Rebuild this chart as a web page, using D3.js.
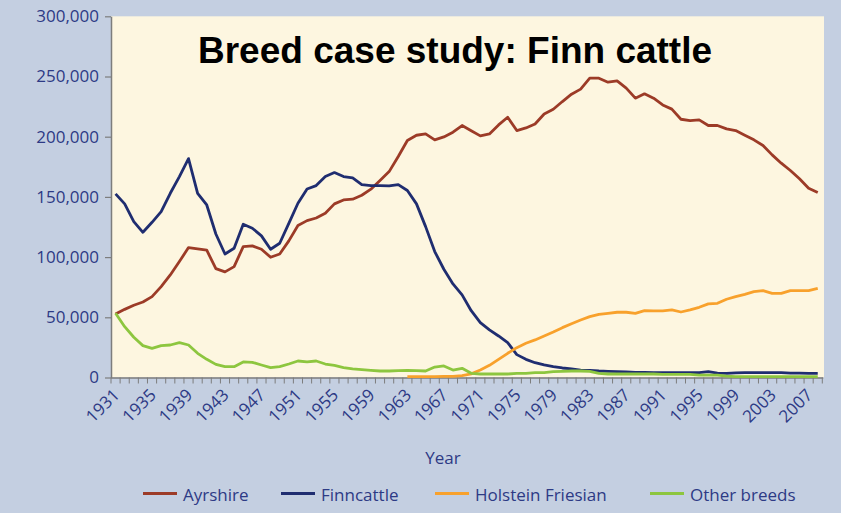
<!DOCTYPE html>
<html>
<head>
<meta charset="utf-8">
<script src="https://cdn.jsdelivr.net/npm/d3@7/dist/d3.min.js"></script>
<style>
  html, body { margin: 0; padding: 0; background: #c4cfe1; }
  svg { display: block; }
</style>
</head>
<body>
<svg id="chart" width="841" height="513"></svg>
<script>
const years = d3.range(1931, 2009);
const tickYears = [1931,1935,1939,1943,1947,1951,1955,1959,1963,1967,1971,1975,1979,1983,1987,1991,1995,1999,2003,2007];
const yTicks = [0, 50000, 100000, 150000, 200000, 250000, 300000];

const ayrshire = [52800,56600,60000,62700,67200,75500,85200,96300,107900,106800,
  105700,90400,87700,92100,108700,109300,106500,99900,102600,113500,
  126200,130300,132500,136400,144200,147500,148100,151400,156400,163600,
  171000,183500,196800,201200,202300,197300,199800,203700,209300,205000,
  200700,202300,209800,216200,205100,207300,210600,218900,222800,229200,
  235300,239500,248600,248600,245300,246400,240300,232000,235600,232000,
  226400,222900,214500,213400,214000,209300,209300,206500,205100,201300,
  197400,192700,184900,178000,171900,165000,157200,153600];

const finncattle = [152500,144200,129500,120600,128900,137800,153000,166900,181800,153000,
  143300,119200,102600,107300,127300,124000,117600,106500,111500,128000,
  144700,156600,159400,166900,170200,166900,165800,160200,159400,159400,
  159100,160200,155300,144200,125300,104600,89900,77700,68600,55500,
  45600,39500,34500,28900,19000,15100,12300,10400,9000,7900,
  7100,6200,6000,5400,5100,4800,4600,4300,4300,4000,
  4000,4000,4000,4000,4000,4800,3600,3500,3800,4000,
  4000,4000,4000,4000,3700,3700,3500,3500];

const holstein = [null,null,null,null,null,null,null,null,null,null,
  null,null,null,null,null,null,null,null,null,null,
  null,null,null,null,null,null,null,null,null,null,
  null,null,800,800,800,800,900,1000,1500,3000,
  6200,10100,15100,20100,24800,28400,31200,34500,37800,41400,
  44700,47800,50600,52500,53300,54200,54200,53300,55500,55300,
  55300,56100,54400,56100,58300,61100,61600,65000,67200,69100,
  71300,72200,69900,69900,72200,72200,72200,74100];

const otherBreeds = [53300,42200,33400,26500,24200,26500,27000,29000,27000,20100,
  15100,10900,9000,9000,12900,12600,10400,8200,9000,11200,
  13700,12900,13700,11200,10100,8200,7100,6500,6000,5400,
  5400,5700,6000,5700,5400,8700,9600,6200,7600,3500,
  2900,2900,2900,2900,3500,3500,4000,4000,4800,5100,
  5400,5400,5100,3500,2900,2900,2900,2900,2900,2900,
  2600,2600,2600,2600,2000,2000,2000,1200,700,700,
  700,700,700,700,700,700,700,700];

const seriesNames = ["Ayrshire", "Finncattle", "Holstein Friesian", "Other breeds"];
const seriesData = [ayrshire, finncattle, holstein, otherBreeds];
const seriesColors = ["#9c3b27", "#1f2d70", "#f8a12c", "#8dc63f"];

const svg = d3.select("#chart");
const W = 841, H = 513;
const plot = { left: 111, right: 822.3, top: 16.3, bottom: 377.5 };

svg.append("rect").attr("x", 0).attr("y", 0).attr("width", W).attr("height", H).attr("fill", "#c4cfe1");
svg.append("rect").attr("x", plot.left).attr("y", plot.top)
  .attr("width", 824 - plot.left).attr("height", plot.bottom - plot.top)
  .attr("fill", "#fdf6e0");

const x = d3.scaleBand().domain(years).range([plot.left, plot.right]).padding(0);
const cx = d => x(d) + x.bandwidth() / 2;
const y = d3.scaleLinear().domain([0, 300000]).range([plot.bottom, plot.top]);

const axisColor = "#7d7d7d";
const textColor = "#2d3a85";
const labelFont = "'Open Sans', 'Noto Sans', sans-serif";

// Y axis
const yAxis = d3.axisLeft(y).tickValues(yTicks).tickFormat(d3.format(",")).tickSize(6).tickSizeOuter(0).tickPadding(6);
const gy = svg.append("g").attr("transform", `translate(${plot.left},0)`).call(yAxis);
gy.select(".domain").attr("stroke", axisColor).attr("stroke-width", 1.5);
gy.selectAll(".tick line").attr("stroke", axisColor).attr("stroke-width", 1.2);
gy.selectAll(".tick text").attr("fill", textColor).style("font-family", labelFont).style("font-size", "17px");

// X axis
const gx = svg.append("g");
gx.append("line").attr("x1", plot.left).attr("x2", plot.right + 1)
  .attr("y1", plot.bottom + 0.5).attr("y2", plot.bottom + 0.5)
  .attr("stroke", axisColor).attr("stroke-width", 1.5);
const boundaries = years.map(d => x(d)).concat([x(years[years.length - 1]) + x.bandwidth()]);
gx.selectAll("line.tk").data(boundaries).enter().append("line").attr("class", "tk")
  .attr("x1", d => d).attr("x2", d => d)
  .attr("y1", plot.bottom).attr("y2", plot.bottom + 6)
  .attr("stroke", axisColor).attr("stroke-width", 1);
gx.selectAll("text.xl").data(tickYears).enter().append("text").attr("class", "xl")
  .attr("transform", d => `translate(${cx(d) + 5},396) rotate(-45)`)
  .attr("text-anchor", "end")
  .attr("fill", textColor).style("font-family", labelFont).style("font-size", "17px")
  .text(d => d);

// Lines
const line = d3.line().defined(d => d.v !== null).x(d => cx(d.year)).y(d => y(d.v));
seriesData.forEach((arr, k) => {
  const pts = years.map((yr, i) => ({ year: yr, v: arr[i] }));
  svg.append("path").datum(pts)
    .attr("fill", "none").attr("stroke", seriesColors[k]).attr("stroke-width", 2.8)
    .attr("stroke-linejoin", "round")
    .attr("d", line);
});

// Title
svg.append("text").attr("x", 198).attr("y", 63)
  .style("font-family", "'Liberation Sans', Arial, sans-serif").style("font-weight", "bold").style("font-size", "37px")
  .attr("fill", "#000").text("Breed case study: Finn cattle");

// Axis title
svg.append("text").attr("x", 443).attr("y", 464).attr("text-anchor", "middle")
  .attr("fill", textColor).style("font-family", labelFont).style("font-size", "17px").text("Year");

// Legend
const legendX = [143, 281, 435, 650];
const lg = svg.append("g");
seriesNames.forEach((name, k) => {
  lg.append("line").attr("x1", legendX[k]).attr("x2", legendX[k] + 34)
    .attr("y1", 493.5).attr("y2", 493.5)
    .attr("stroke", seriesColors[k]).attr("stroke-width", 3);
  lg.append("text").attr("x", legendX[k] + 40).attr("y", 501)
    .attr("fill", textColor).style("font-family", labelFont).style("font-size", "17px").text(name);
});
</script>
</body>
</html>
